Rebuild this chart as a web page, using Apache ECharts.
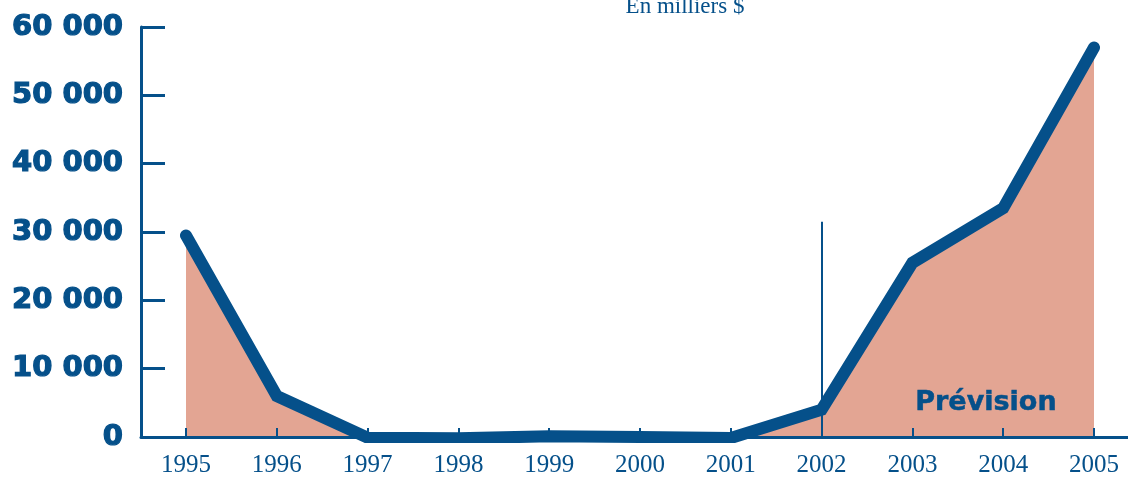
<!DOCTYPE html>
<html><head><meta charset="utf-8">
<script src="https://cdn.jsdelivr.net/npm/echarts@6/dist/echarts.min.js"></script>
<style>html,body{margin:0;padding:0;background:#fff}#c{width:1128px;height:481px}</style>
</head><body><div id="c"></div>
<script>
const years = ['1995','1996','1997','1998','1999','2000','2001','2002','2003','2004','2005'];
const values = [29500, 6000, -100, -200, 100, 0, -150, 4000, 25500, 33500, 57000];
const yTicks = [0, 10000, 20000, 30000, 40000, 50000, 60000];
const forecastYear = '2002';
const forecastLineTop = 31500;
const unitText = 'En milliers $';
const forecastText = 'Prévision';

const blue = '#05508a';
const fill = '#e3a593';
const chart = echarts.init(document.getElementById('c'), null, {renderer: 'canvas'});
chart.setOption({
  animation: false,
  title: {
    text: unitText, left: 680, top: -10, textAlign: 'center',
    textStyle: {fontFamily: 'Liberation Serif', fontSize: 23, fontWeight: 'normal', color: blue}
  },
  grid: [
    {left: 186, right: 34, top: 27, bottom: 44, containLabel: false},
    {left: 141, right: 0, top: 27, bottom: 44, containLabel: false}
  ],
  xAxis: [{
    type: 'category', data: years, boundaryGap: false, gridIndex: 0, z: 5,
    axisLine: {show: false},
    axisTick: {inside: true, length: 9, lineStyle: {color: blue, width: 2}},
    axisLabel: {margin: 16, fontFamily: 'Liberation Serif', fontSize: 25, color: blue}
  }, {
    type: 'value', gridIndex: 1, min: 0, max: 1, z: 5,
    axisLine: {show: true, onZero: false, lineStyle: {color: blue, width: 3}},
    axisTick: {show: false}, axisLabel: {show: false}, splitLine: {show: false}
  }],
  yAxis: [{
    type: 'value', min: 0, max: 60000, interval: 10000, gridIndex: 0, offset: 45,
    axisLine: {show: true, lineStyle: {color: blue, width: 3}},
    axisTick: {show: true, inside: true, length: 24, lineStyle: {color: blue, width: 3}},
    splitLine: {show: false},
    axisLabel: {
      margin: 18, fontFamily: 'DejaVu Sans', fontWeight: 'bold', fontSize: 29, color: blue,
      textBorderColor: blue, textBorderWidth: 1.2,
      formatter: v => yTicks.includes(v) ? (v === 0 ? '0' : String(v / 1000) + ' 000') : ''
    }
  }, {
    type: 'value', gridIndex: 1, min: 0, max: 1, show: false
  }],
  series: [{
    type: 'line', data: values, symbol: 'none', xAxisIndex: 0, yAxisIndex: 0,
    lineStyle: {color: blue, width: 12, cap: 'round', join: 'miter'},
    areaStyle: {color: fill, opacity: 1},
    z: 3,
    markLine: {
      silent: true, symbol: 'none', label: {show: false},
      lineStyle: {color: blue, width: 2, type: 'solid'},
      data: [[{coord: [forecastYear, 0]}, {coord: [forecastYear, forecastLineTop]}]]
    }
  }],
  graphic: [{
    type: 'text', left: 915, top: 389, z: 10,
    style: {text: forecastText, font: 'bold 27px "DejaVu Sans"', fill: blue, stroke: blue, lineWidth: 0.5}
  }]
});
</script></body></html>
